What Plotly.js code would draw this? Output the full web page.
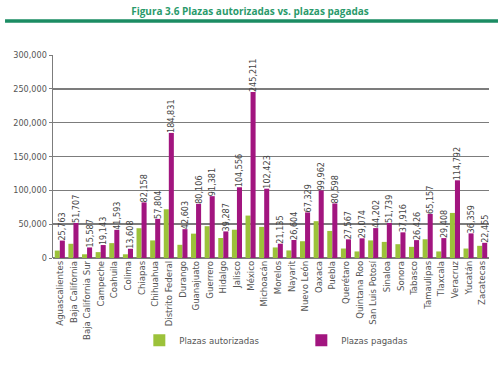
<!DOCTYPE html>
<html>
<head>
<meta charset="utf-8">
<script src="https://cdn.plot.ly/plotly-3.0.1.min.js"></script>
<style>html,body{margin:0;padding:0;background:#fff;}#chart{width:500px;height:366px;}</style>
</head>
<body>
<div id="chart"></div>
<script>
var states = ["Aguascalientes","Baja California","Baja California Sur","Campeche","Coahuila","Colima","Chiapas","Chihuahua","Distrito Federal","Durango","Guanajuato","Guerrero","Hidalgo","Jalisco","México","Michoacán","Morelos","Nayarit","Nuevo León","Oaxaca","Puebla","Querétaro","Quintana Roo","San Luis Potosí","Sinaloa","Sonora","Tabasco","Tamaulipas","Tlaxcala","Veracruz","Yucatán","Zacatecas"];
var autorizadas = [11000,21000,5500,8700,22000,5500,44000,26000,72000,19500,36000,47000,29600,41800,62700,46000,15600,11200,24800,54400,40000,14000,9700,26000,23800,20400,16500,27700,9700,66600,14000,18000];
var pagadas = [25763,51707,15587,19143,41593,13608,82158,57804,184831,42603,80106,91381,39287,104556,245211,102423,21135,26604,67329,99962,80598,27567,29074,44202,51739,37916,26426,65157,29408,114792,36359,22455];
var seriesNames = ["Plazas autorizadas","Plazas pagadas"];
var yTicks = [0,50000,100000,150000,200000,250000,300000];

var fontFam = "'DejaVu Sans Condensed','Liberation Sans Narrow','Open Sans',sans-serif";
var fmt = function(v){return v.toLocaleString('en-US');};

var traces = [
  {type:'bar', name:seriesNames[0], x:states, y:autorizadas, marker:{color:'#9cc23a'}, hoverinfo:'y'},
  {type:'bar', name:seriesNames[1], x:states, y:pagadas, marker:{color:'#a2157f'},
   text:pagadas.map(fmt), textposition:'outside', textangle:-90,
   textfont:{family:fontFam, size:9, color:'#444'}, cliponaxis:false, constraintext:'none'}
];

var layout = {
  width:500, height:366,
  margin:{l:53, r:11, t:55, b:105},
  paper_bgcolor:'#fff', plot_bgcolor:'#fff',
  font:{family:fontFam, size:9, color:'#555'},
  title:{text:'<b>Figura 3.6 Plazas autorizadas vs. plazas pagadas</b>', x:0.5, xanchor:'center', y:1-11/366, yanchor:'middle', yref:'container',
    font:{family:"'Open Sans','DejaVu Sans',sans-serif", size:10, color:'#2a9a6b'}},
  barmode:'group', bargap:0.26, bargroupgap:0,
  xaxis:{tickangle:-90, tickfont:{family:fontFam, size:9.5, color:'#555'}, showline:false, ticks:'', automargin:false, fixedrange:true},
  yaxis:{range:[0,300000], tickvals:yTicks, ticktext:yTicks.map(fmt), tickfont:{family:fontFam, size:9, color:'#555'},
    showgrid:true, gridcolor:'#7c7c7c', gridwidth:1.4, showline:true, linecolor:'#7c7c7c', linewidth:1.4,
    ticks:'outside', ticklen:3, tickcolor:'#7c7c7c', zeroline:true, zerolinecolor:'#7c7c7c', zerolinewidth:1.4, automargin:false, fixedrange:true},
  legend:{orientation:'h', x:0.198, xanchor:'left', y:-0.405, yanchor:'middle', font:{family:fontFam, size:9.5, color:'#555'}, entrywidth:117, entrywidthmode:'pixels', bgcolor:'rgba(0,0,0,0)'},
  shapes:[{type:'line', xref:'paper', yref:'paper', x0:-0.11, x1:1.0206, y0:1.168, y1:1.168, line:{color:'#1b8c63', width:3.5}}]
};

Plotly.newPlot('chart', traces, layout, {displayModeBar:false, staticPlot:true});
</script>
</body>
</html>
